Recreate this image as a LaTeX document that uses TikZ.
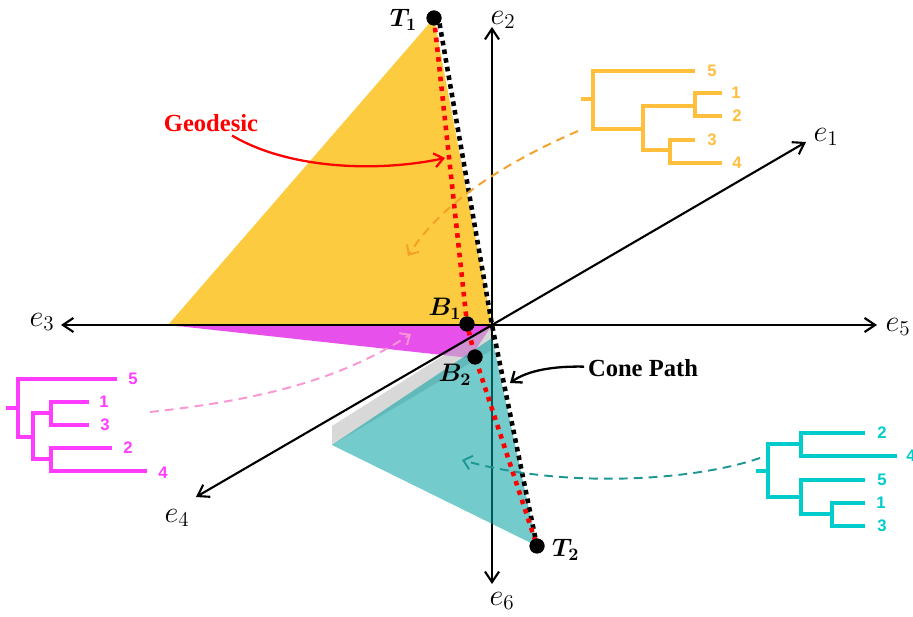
\documentclass[tikz,border=0pt]{standalone}
\usepackage{amsmath}
\usepackage{fontspec}
\setmainfont{Liberation Serif}
\newfontfamily\treefont{Liberation Sans}
\usetikzlibrary{positioning, arrows.meta, backgrounds}

\definecolor{coneGold}{RGB}{253,203,64}
\definecolor{treeGold}{RGB}{255,190,60}
\definecolor{arrowGold}{RGB}{245,160,40}
\definecolor{coneMagenta}{RGB}{232,80,236}
\definecolor{treeMagenta}{RGB}{255,60,255}
\definecolor{arrowPink}{RGB}{250,150,210}
\definecolor{coneGray}{RGB}{190,190,190}
\definecolor{coneTeal}{RGB}{0,160,160}
\definecolor{treeTeal}{RGB}{0,204,204}
\definecolor{arrowTeal}{RGB}{30,150,150}

\begin{document}
\begin{tikzpicture}[
                x=0.02cm, y=-0.02cm,
                % Axis Styles
                axisLine/.style = {-{Straight Barb[length=6pt, width=8pt]}, line width=1.2pt, draw=black},
                axisLabel/.style = {inner sep=0pt, font=\fontsize{18}{20}\selectfont},
                % Path Styles
                geoPath/.style = {draw=red, line width=2.6pt, dash pattern=on 2.6pt off 3pt},
                conePath/.style = {draw=black, line width=2.6pt, dash pattern=on 2.6pt off 2.4pt},
                dotNode/.style = {circle, fill=black, inner sep=0pt, minimum size=15*0.02cm},
                ptLabel/.style = {inner sep=1pt, font=\fontsize{14}{16}\selectfont\boldmath},
                % Tree Styles
                treeLine/.style = {line width=2.1pt, line cap=rect},
                leafLabel/.style = {inner sep=0pt, font=\treefont\fontsize{9.5}{11}\selectfont\bfseries},
                % Arrow Styles
                noteLine/.style = {-{Straight Barb[length=5pt, width=8pt]}, line width=1.3pt},
                hintLine/.style = {-{Straight Barb[length=4.5pt, width=8pt]}, line width=1.1pt, dash pattern=on 5pt off 3.5pt},
                noteText/.style = {inner sep=2pt, font=\fontsize{14}{16}\selectfont\bfseries}
            ]
                \useasboundingbox (0,0) rectangle (913,617);

                % ==========================================
                % POINTS
                % ==========================================
                \coordinate (O) at (492,325);
                \coordinate (E1) at (806,142);
                \coordinate (E2) at (492,27);
                \coordinate (E3) at (61,325);
                \coordinate (E4) at (196,497);
                \coordinate (E5) at (877,325);
                \coordinate (E6) at (492,584);

                % ==========================================
                % ORTHANT CONES
                % ==========================================
                \fill[coneGold] (434,18) -- (168,325) -- (O) -- cycle;
                \fill[coneMagenta] (168,325) -- (O) -- (470,358) -- cycle;
                \fill[coneGray, fill opacity=0.6] (332,426) -- (O) -- (492,350) -- (332,445) -- cycle;

                % ==========================================
                % AXES
                % ==========================================
                \draw[axisLine] (O) -- (E1);
                \draw[axisLine] (O) -- (E2);
                \draw[axisLine] (O) -- (E3);
                \draw[axisLine] (O) -- (E4);
                \draw[axisLine] (O) -- (E5);
                \draw[axisLine] (O) -- (E6);

                \node[axisLabel] (e1) at (826,137) {$e_1$};
                \node[axisLabel] (e2) at (503,20) {$e_2$};
                \node[axisLabel] (e3) at (42,322) {$e_3$};
                \node[axisLabel] (e4) at (177,518) {$e_4$};
                \node[axisLabel] (e5) at (898,327) {$e_5$};
                \node[axisLabel] (e6) at (502,601) {$e_6$};

                \fill[coneTeal, fill opacity=0.55] (332,445) -- (492,338) -- (537,546) -- cycle;

                % ==========================================
                % GEODESIC AND CONE PATH
                % ==========================================
                \node[dotNode] (T1) at (434,18) {};
                \node[dotNode] (B1) at (467,324) {};
                \node[dotNode] (B2) at (475,357) {};
                \node[dotNode] (T2) at (537,546) {};

                \draw[conePath] (T1.south east) -- (O) -- (T2.center);
                \draw[geoPath] (T1.center) -- (B1.center) -- (B2.center) -- (T2.center);

                \node[dotNode] at (T1) {};
                \node[dotNode] at (B1) {};
                \node[dotNode] at (B2) {};
                \node[dotNode] at (T2) {};

                \node[ptLabel, left=4pt of T1, yshift=-1pt] (T1L) {$T_1$};
                \node[ptLabel, right=3pt of T2, yshift=-2pt] (T2L) {$T_2$};
                \node[ptLabel] (B1L) at (445,309) {$B_1$};
                \node[ptLabel] (B2L) at (455,375) {$B_2$};

                % ==========================================
                % TREES
                % ==========================================
                % gold tree (top right)
                \draw[treeLine, treeGold] (583,99) -- (593,99);
                \draw[treeLine, treeGold] (693,71) -- (593,71) -- (593,129) -- (643,129);
                \draw[treeLine, treeGold] (695,106) -- (643,106) -- (643,150) -- (670,150);
                \draw[treeLine, treeGold] (720,93) -- (695,93) -- (695,116) -- (720,116);
                \draw[treeLine, treeGold] (693,140) -- (670,140) -- (670,163) -- (720,163);
                \node[leafLabel, treeGold] (g5) at (712,71) {5};
                \node[leafLabel, treeGold] (g1) at (736,93) {1};
                \node[leafLabel, treeGold] (g2) at (737,116) {2};
                \node[leafLabel, treeGold] (g3) at (712,140) {3};
                \node[leafLabel, treeGold] (g4) at (737,163) {4};

                % magenta tree (left)
                \draw[treeLine, treeMagenta] (8,408) -- (18,408);
                \draw[treeLine, treeMagenta] (115,379) -- (18,379) -- (18,437) -- (33,437);
                \draw[treeLine, treeMagenta] (51,413) -- (33,413) -- (33,459) -- (51,459);
                \draw[treeLine, treeMagenta] (87,402) -- (51,402) -- (51,425) -- (87,425);
                \draw[treeLine, treeMagenta] (110,448) -- (51,448) -- (51,471) -- (145,471);
                \node[leafLabel, treeMagenta] (m5) at (133,379) {5};
                \node[leafLabel, treeMagenta] (m1) at (104,402) {1};
                \node[leafLabel, treeMagenta] (m3) at (105,425) {3};
                \node[leafLabel, treeMagenta] (m2) at (128,448) {2};
                \node[leafLabel, treeMagenta] (m4) at (163,473) {4};

                % teal tree (bottom right)
                \draw[treeLine, treeTeal] (758,471) -- (768,471);
                \draw[treeLine, treeTeal] (801,444) -- (768,444) -- (768,497) -- (801,497);
                \draw[treeLine, treeTeal] (863,433) -- (801,433) -- (801,456) -- (895,456);
                \draw[treeLine, treeTeal] (863,480) -- (801,480) -- (801,514) -- (832,514);
                \draw[treeLine, treeTeal] (863,503) -- (832,503) -- (832,526) -- (863,526);
                \node[leafLabel, treeTeal] (t2) at (882,433) {2};
                \node[leafLabel, treeTeal] (t4) at (911,456) {4};
                \node[leafLabel, treeTeal] (t5) at (882,480) {5};
                \node[leafLabel, treeTeal] (t1) at (881,503) {1};
                \node[leafLabel, treeTeal] (t3) at (882,526) {3};

                % ==========================================
                % POINTERS
                % ==========================================
                \coordinate (goldFrom) at (578,131);
                \coordinate (goldTo) at (408,256);
                \coordinate (pinkFrom) at (150,412);
                \coordinate (pinkTo) at (411,334);
                \coordinate (tealFrom) at (760,458);
                \coordinate (tealTo) at (462,460);
                \coordinate (geoTip) at (445,158);
                \coordinate (coneTip) at (510,383);

                \draw[hintLine, arrowGold] (goldFrom) .. controls (500,165) and (440,205) .. (goldTo);
                \draw[hintLine, arrowPink] (pinkFrom) .. controls (260,400) and (340,380) .. (pinkTo);
                \draw[hintLine, arrowTeal] (tealFrom) .. controls (690,482) and (560,488) .. (tealTo);

                \node[noteText, red] (geo) at (211,123) {Geodesic};
                \node[noteText] (cone) at (643,368) {Cone Path};

                \draw[noteLine, red] (geo) .. controls (290,170) and (380,172) .. (geoTip);
                \draw[noteLine, black] (cone) .. controls (555,366) and (528,370) .. (coneTip);

            \end{tikzpicture}
\end{document}
